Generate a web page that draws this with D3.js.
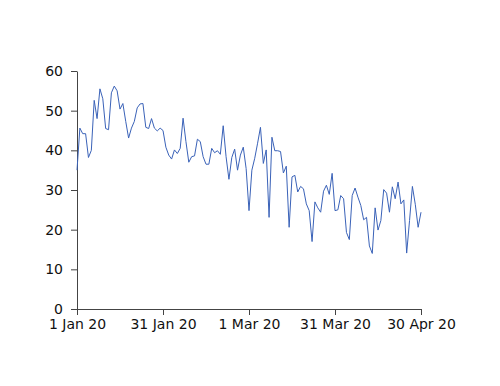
<!DOCTYPE html>
<html>
<head>
<meta charset="utf-8">
<script src="https://cdn.jsdelivr.net/npm/d3@7"></script>
<style>
  body { margin: 0; background: #fff; }
  .tick text { font-family: "DejaVu Sans", Verdana, sans-serif; font-size: 14px; fill: #111; }
</style>
</head>
<body>
<div id="app"></div>
<script>
// Daily values, 1 Jan 2020 .. 30 Apr 2020
const startDate = '2020-01-01';
const values = [
  35, 45.6, 44.2, 44.2, 38.2, 40, 52.6, 48, 55.5, 53,
  45.5, 45.2, 54.5, 56.2, 55, 50.4, 51.8, 47.3, 43.1, 45.6,
  47.3, 50.7, 51.7, 51.8, 45.8, 45.5, 48, 45.6, 44.9, 45.6,
  45, 40.8, 38.8, 37.8, 40.1, 39.2, 40.5, 48.1, 42.2, 37,
  38.4, 38.6, 42.8, 42.2, 38.4, 36.5, 36.5, 40.5, 39.4, 39.9,
  39, 46.2, 38.4, 32.7, 38.2, 40.3, 35, 38.8, 40.8, 35.4,
  24.8, 35, 38, 41.8, 45.8, 36.7, 40.1, 23.1, 43.3, 39.9,
  39.9, 39.7, 34.3, 36, 20.6, 33.3, 33.7, 29.5, 30.9, 30.3,
  26.5, 24.8, 17, 27, 25.5, 24.4, 29.7, 31.2, 28.9, 34.2,
  24.8, 25, 28.6, 27.8, 19.3, 17.5, 28.6, 30.5, 28.2, 26.1,
  22.5, 23.1, 15.9, 14, 25.5, 19.9, 22.3, 30.1, 29.2, 24.4,
  30.8, 27.8, 32, 26.5, 27.5, 14.1, 22.3, 30.9, 26.4, 20.6,
  24.4,
];
const xTickDates = ['2020-01-01', '2020-01-31', '2020-03-01', '2020-03-31', '2020-04-30'];
const yTicks = [0, 10, 20, 30, 40, 50, 60];

const width = 500;
const height = 386;
const margin = ({ top: 71, right: 79, bottom: 77, left: 77 });
const plotWidth = width - margin.left - margin.right;
const plotHeight = height - margin.top - margin.bottom;

const parse = d3.timeParse('%Y-%m-%d');
const t0 = parse(startDate);
const data = values.map((v, i) => ({ date: d3.timeDay.offset(t0, i), value: v }));

const xScale = d3.scaleTime()
  .domain([parse(xTickDates[0]), parse(xTickDates[xTickDates.length - 1])])
  .range([0, plotWidth]);
const yScale = d3.scaleLinear()
  .domain([0, 60])
  .range([plotHeight, 0]);

const svg = d3.select('#app')
  .append('svg')
  .attr('width', width)
  .attr('height', height);

const plot = svg.append('g')
  .attr('transform', `translate(${margin.left}, ${margin.top})`);

// Axes
const xAxis = d3.axisBottom(xScale)
  .tickValues(xTickDates.map(parse))
  .tickFormat(d3.timeFormat('%-d %b %y'))
  .tickSize(6)
  .tickSizeOuter(0)
  .tickPadding(4);
plot.append('g')
  .attr('class', 'xAxis')
  .attr('transform', `translate(0, ${plotHeight})`)
  .call(xAxis);

const yAxis = d3.axisLeft(yScale)
  .tickValues(yTicks)
  .tickSize(6)
  .tickSizeOuter(0)
  .tickPadding(8);
plot.append('g')
  .attr('class', 'yAxis')
  .call(yAxis);

plot.selectAll('.domain, .tick line')
  .attr('stroke', '#444');

// Line
const line = d3.line()
  .x((d) => xScale(d.date))
  .y((d) => yScale(d.value));
plot.append('path')
  .datum(data)
  .attr('fill', 'none')
  .attr('stroke', '#3a62b8')
  .attr('stroke-width', 1)
  .attr('stroke-linejoin', 'round')
  .attr('d', line);
</script>
</body>
</html>
